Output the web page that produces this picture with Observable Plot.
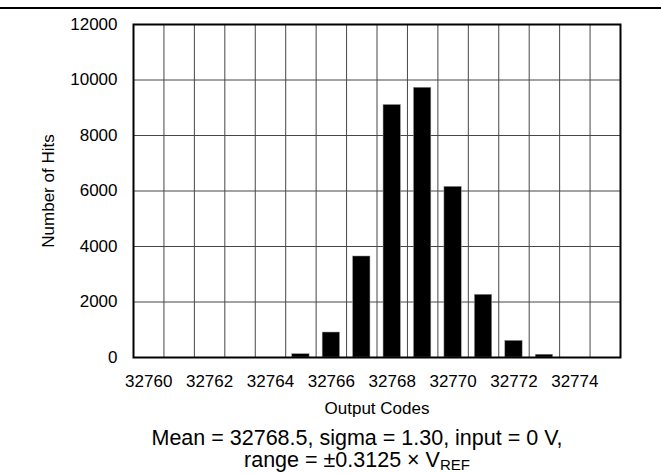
<!DOCTYPE html>
<html>
<head>
<meta charset="utf-8">
<script src="https://cdn.jsdelivr.net/npm/d3@7"></script>
<script src="https://cdn.jsdelivr.net/npm/@observablehq/plot@0.6"></script>
<style>
  html, body { margin: 0; padding: 0; background: #fff; }
  body { width: 661px; height: 473px; position: relative; overflow: hidden;
         font-family: "Liberation Sans", Arial, Helvetica, sans-serif; }
  #rule { position: absolute; left: 0; top: 7px; width: 661px; border-top: 2px solid #000; }
  #chart { position: absolute; left: 0; top: 0; }
  #caption { position: absolute; left: 107px; width: 500px; top: 427px;
             text-align: center; font-size: 21.5px; line-height: 22px; color: #000; }
  #caption sub { font-size: 15px; vertical-align: -3px; line-height: 0; }
</style>
</head>
<body>
<div id="rule"></div>
<div id="chart"></div>
<div id="caption">Mean = 32768.5, sigma = 1.30, input = 0 V,<br>range = ±0.3125 × V<sub>REF</sub></div>
<script>
// Histogram of output codes
const codes = [32760, 32761, 32762, 32763, 32764, 32765, 32766, 32767,
               32768, 32769, 32770, 32771, 32772, 32773, 32774, 32775];
const hits  = [0, 0, 0, 0, 0, 120, 900, 3640,
               9100, 9720, 6150, 2260, 600, 100, 0, 0];
const xTicks = [32760, 32762, 32764, 32766, 32768, 32770, 32772, 32774];
const yTicks = [0, 2000, 4000, 6000, 8000, 10000, 12000];

const data = codes.map((c, i) => ({code: c, hits: hits[i]}));
const half = 0.285; // half bar width, in code units
const bins = d3.range(codes[0] - 0.5, codes[codes.length - 1] + 1, 1); // bin edges

const chart = Plot.plot({
  width: 661,
  height: 420,
  marginLeft: 133,
  marginRight: 41,
  marginTop: 24,
  marginBottom: 63,
  style: {fontFamily: "'Liberation Sans', Arial, Helvetica, sans-serif", fontSize: "17px", color: "#000", background: "transparent"},
  x: {domain: [codes[0] - 0.5, codes[codes.length - 1] + 0.5]},
  y: {domain: [0, 12000]},
  marks: [
    Plot.ruleX(bins, {stroke: "#474747", strokeWidth: 1}),
    Plot.ruleY(yTicks, {stroke: "#474747", strokeWidth: 1}),
    Plot.rectY(data.filter(d => d.hits > 0), {
      x1: d => d.code - half, x2: d => d.code + half, y: "hits",
      fill: "#000", stroke: "#9a9a9a", strokeWidth: 0.5
    }),
    Plot.axisX(xTicks, {tickSize: 0, tickPadding: 17.5, tickFormat: d3.format("d"),
      label: "Output Codes", labelAnchor: "center", labelArrow: "none", labelOffset: 56}),
    Plot.axisY(yTicks, {tickSize: 0, tickPadding: 16, tickFormat: d3.format("d"),
      label: "Number of Hits", labelAnchor: "center", labelArrow: "none", labelOffset: 92}),
    Plot.frame({stroke: "#000", strokeWidth: 2})
  ]
});
document.getElementById("chart").append(chart);
</script>
</body>
</html>
